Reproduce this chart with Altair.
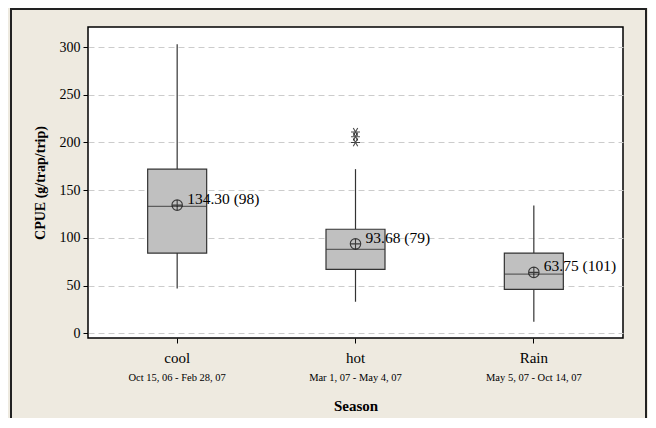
import altair as alt
import pandas as pd

seasons = ["cool", "hot", "Rain"]
date_ranges = ["Oct 15, 06 - Feb 28, 07", "Mar 1, 07 - May 4, 07", "May 5, 07 - Oct 14, 07"]
whisker_low = [47, 33, 12]
q1 = [84, 67, 46]
median = [133, 88, 62]
q3 = [172, 109, 84]
whisker_high = [303, 172, 134]
means = [134.30, 93.68, 63.75]
counts = [98, 79, 101]
outlier_season = ["hot", "hot", "hot"]
outlier_value = [200, 206, 211]
y_ticks = [0, 50, 100, 150, 200, 250, 300]

box = pd.DataFrame({
    "season": seasons, "dates": date_ranges, "lo": whisker_low, "q1": q1,
    "med": median, "q3": q3, "hi": whisker_high, "mean": means, "n": counts,
})
box["label"] = [f"{m:.2f} ({n})" for m, n in zip(means, counts)]
outl = pd.DataFrame({"season": outlier_season, "value": outlier_value})

W, H = 535, 311
FONT = "Liberation Serif"

xscale = alt.Scale(domain=seasons, paddingInner=0, paddingOuter=0)
yscale = alt.Scale(domain=[-5, 321], nice=False, zero=False)

x_enc = alt.X("season:N", scale=xscale, sort=seasons, title="Season",
              axis=alt.Axis(labelAngle=0, labelFontSize=15, labelFont=FONT, labelColor="#000",
                            labelPadding=7, tickSize=5, tickColor="#000", domain=False,
                            titleFont=FONT, titleFontSize=15, titleFontWeight="bold",
                            titleColor="#000", titlePadding=33))
y_axis = alt.Axis(values=y_ticks, labelFontSize=14, labelFont=FONT, labelColor="#000",
                  tickSize=5, tickColor="#000", domain=False, grid=True,
                  gridDash=[6, 4], gridColor="#CCCCCC", gridWidth=1,
                  titleFont=FONT, titleFontSize=14, titleFontWeight="bold",
                  titleColor="#000", titlePadding=12, labelPadding=3)

base = alt.Chart(box)

whisk_hi = base.mark_rule(color="#333", strokeWidth=1.2).encode(
    x=x_enc, y=alt.Y("q3:Q", scale=yscale, axis=y_axis, title="CPUE (g/trap/trip)"),
    y2="hi:Q")
whisk_lo = base.mark_rule(color="#333", strokeWidth=1.2).encode(
    x=alt.X("season:N", scale=xscale, sort=seasons), y=alt.Y("lo:Q", scale=yscale), y2="q1:Q")
boxes = base.mark_bar(size=59, color="#C0C0C0", stroke="#333", strokeWidth=1.2).encode(
    x=alt.X("season:N", scale=xscale, sort=seasons), y=alt.Y("q1:Q", scale=yscale), y2="q3:Q")
med = base.mark_tick(size=59, thickness=1.3, color="#333", orient="horizontal").encode(
    x=alt.X("season:N", scale=xscale, sort=seasons), y=alt.Y("med:Q", scale=yscale))
mean_pt = base.mark_point(
    shape="M-1,0A1,1 0 1,1 1,0A1,1 0 1,1 -1,0M-1,0L1,0M0,-1L0,1",
    size=110, color="#000", strokeWidth=1.1, filled=False).encode(
    x=alt.X("season:N", scale=xscale, sort=seasons), y=alt.Y("mean:Q", scale=yscale))
mean_txt = base.mark_text(align="left", baseline="middle", dx=10, dy=-6,
                          font=FONT, fontSize=15.5, color="#000").encode(
    x=alt.X("season:N", scale=xscale, sort=seasons), y=alt.Y("mean:Q", scale=yscale),
    text="label:N")
dates_txt = base.mark_text(baseline="middle", font=FONT, fontSize=10.5, color="#000").encode(
    x=alt.X("season:N", scale=xscale, sort=seasons), y=alt.value(H + 40), text="dates:N")
outliers = alt.Chart(outl).mark_point(
    shape="M-1,0L1,0M-0.5,-0.87L0.5,0.87M-0.5,0.87L0.5,-0.87",
    size=80, color="#000", strokeWidth=1.1, filled=False).encode(
    x=alt.X("season:N", scale=xscale, sort=seasons), y=alt.Y("value:Q", scale=yscale))

frame = alt.Chart(pd.DataFrame({"k": [0]})).mark_rect(
    filled=False, stroke="#222", strokeWidth=2).encode(
    x=alt.value(-77), x2=alt.value(W + 23), y=alt.value(-18), y2=alt.value(H + 120))

chart = alt.layer(whisk_hi, whisk_lo, boxes, med, mean_pt, mean_txt, dates_txt, outliers, frame).properties(
    width=W, height=H, autosize="none",
    padding={"left": 80, "top": 19, "right": 25, "bottom": 80},
    background="#EEEAE0",
).configure_view(fill="#FFFFFF", stroke="#000", strokeWidth=1.5)

chart.save("out.html", embed_options={"renderer": "svg", "actions": False})
